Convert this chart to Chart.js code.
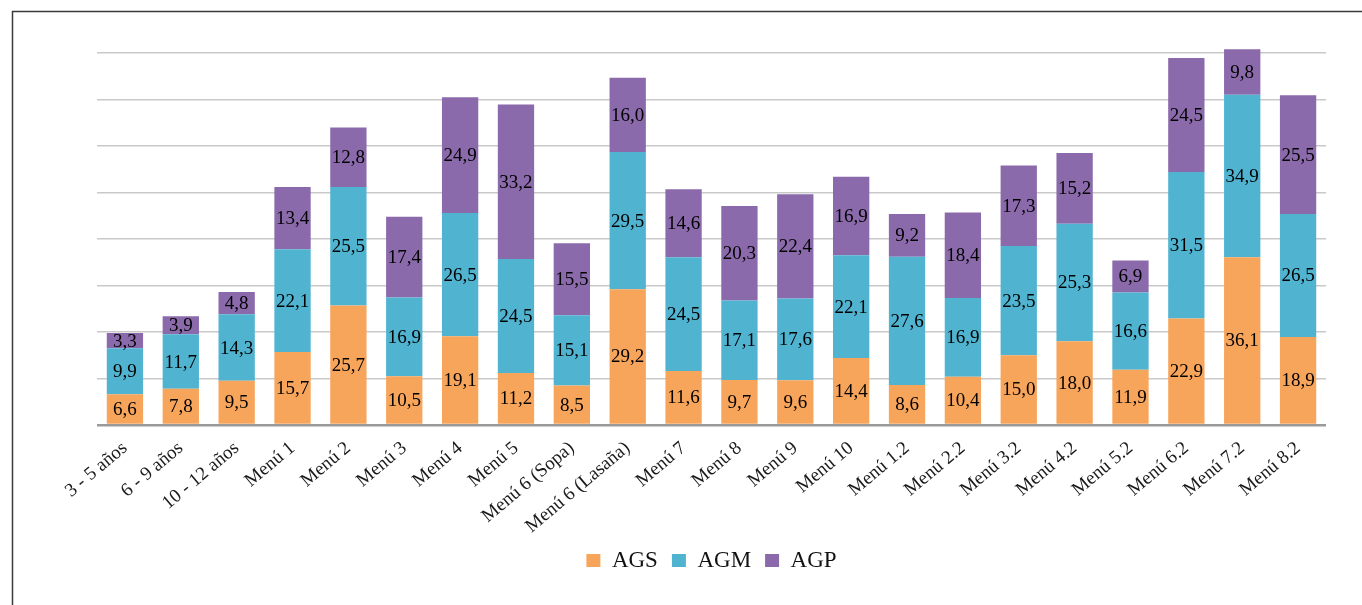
<!DOCTYPE html>
<html>
<head>
<meta charset="utf-8">
<script src="https://cdn.jsdelivr.net/npm/chart.js@4.4.1/dist/chart.umd.min.js"></script>
<style>
  html, body { margin: 0; padding: 0; background: #ffffff; }
  #wrap { position: relative; width: 1362px; height: 605px; }
</style>
</head>
<body>
<div id="wrap"><canvas id="c" width="1362" height="605"></canvas></div>
<script>
const categories = ["3 - 5 años", "6 - 9 años", "10 - 12 años", "Menú 1", "Menú 2", "Menú 3", "Menú 4", "Menú 5", "Menú 6 (Sopa)", "Menú 6 (Lasaña)", "Menú 7", "Menú 8", "Menú 9", "Menú 10", "Menú 1.2", "Menú 2.2", "Menú 3.2", "Menú 4.2", "Menú 5.2", "Menú 6.2", "Menú 7.2", "Menú 8.2"];
const seriesNames = ["AGS", "AGM", "AGP"];
const ags = [6.6, 7.8, 9.5, 15.7, 25.7, 10.5, 19.1, 11.2, 8.5, 29.2, 11.6, 9.7, 9.6, 14.4, 8.6, 10.4, 15.0, 18.0, 11.9, 22.9, 36.1, 18.9];
const agm = [9.9, 11.7, 14.3, 22.1, 25.5, 16.9, 26.5, 24.5, 15.1, 29.5, 24.5, 17.1, 17.6, 22.1, 27.6, 16.9, 23.5, 25.3, 16.6, 31.5, 34.9, 26.5];
const agp = [3.3, 3.9, 4.8, 13.4, 12.8, 17.4, 24.9, 33.2, 15.5, 16.0, 14.6, 20.3, 22.4, 16.9, 9.2, 18.4, 17.3, 15.2, 6.9, 24.5, 9.8, 25.5];
const yTicks = [0, 10, 20, 30, 40, 50, 60, 70, 80];

const colors = ["#F8A55C", "#50B4D1", "#8B6AAB"];
const serif = "'Liberation Serif', 'Times New Roman', serif";

const frame = {
  id: 'frame',
  beforeDraw(chart) {
    const ctx = chart.ctx;
    ctx.save();
    ctx.strokeStyle = '#3a3a3a';
    ctx.lineWidth = 1.5;
    ctx.beginPath();
    ctx.moveTo(12.5, 605);
    ctx.lineTo(12.5, 11.5);
    ctx.lineTo(1362, 11.5);
    ctx.stroke();
    ctx.restore();
  }
};

const valueLabels = {
  id: 'valueLabels',
  afterDatasetsDraw(chart) {
    const ctx = chart.ctx;
    ctx.save();
    ctx.font = "19px " + serif;
    ctx.fillStyle = '#000';
    ctx.textAlign = 'center';
    ctx.textBaseline = 'middle';
    chart.data.datasets.forEach((ds, di) => {
      const meta = chart.getDatasetMeta(di);
      meta.data.forEach((bar, i) => {
        const v = ds.data[i];
        const y = (bar.y + bar.base) / 2;
        ctx.fillText(v.toFixed(1).replace('.', ','), bar.x, y + 1);
      });
    });
    ctx.restore();
  }
};

new Chart(document.getElementById('c'), {
  type: 'bar',
  data: {
    labels: categories,
    datasets: [
      { label: seriesNames[0], data: ags, backgroundColor: colors[0] },
      { label: seriesNames[1], data: agm, backgroundColor: colors[1] },
      { label: seriesNames[2], data: agp, backgroundColor: colors[2] }
    ]
  },
  options: {
    responsive: false,
    animation: false,
    devicePixelRatio: 1,
    layout: { padding: { left: 97, right: 36, top: 53, bottom: 23 } },
    datasets: { bar: { barPercentage: 0.65, categoryPercentage: 1.0, clip: false } },
    plugins: {
      legend: {
        position: 'bottom',
        labels: {
          font: { family: serif, size: 23 },
          color: '#111',
          boxWidth: 14,
          boxHeight: 13,
          padding: 14
        }
      },
      tooltip: { enabled: false }
    },
    scales: {
      x: {
        stacked: true,
        grid: { display: false },
        border: { display: false },
        ticks: {
          font: { family: serif, size: 19 },
          color: '#1a1a1a',
          minRotation: 40,
          maxRotation: 40,
          autoSkip: false,
          padding: 4
        },
        afterFit: (s) => { s.height = 110; }
      },
      y: {
        stacked: true,
        min: 0,
        max: 80,
        afterBuildTicks: (s) => { s.ticks = yTicks.map(v => ({ value: v })); },
        ticks: { display: false },
        border: { display: false },
        grid: {
          drawTicks: false,
          color: (c) => c.tick && c.tick.value === 0 ? '#9a9a9a' : '#c9c9c9',
          lineWidth: (c) => c.tick && c.tick.value === 0 ? 2.5 : 1.5
        },
        afterFit: (s) => { s.width = 0; }
      }
    }
  },
  plugins: [frame, valueLabels]
});
</script>
</body>
</html>
